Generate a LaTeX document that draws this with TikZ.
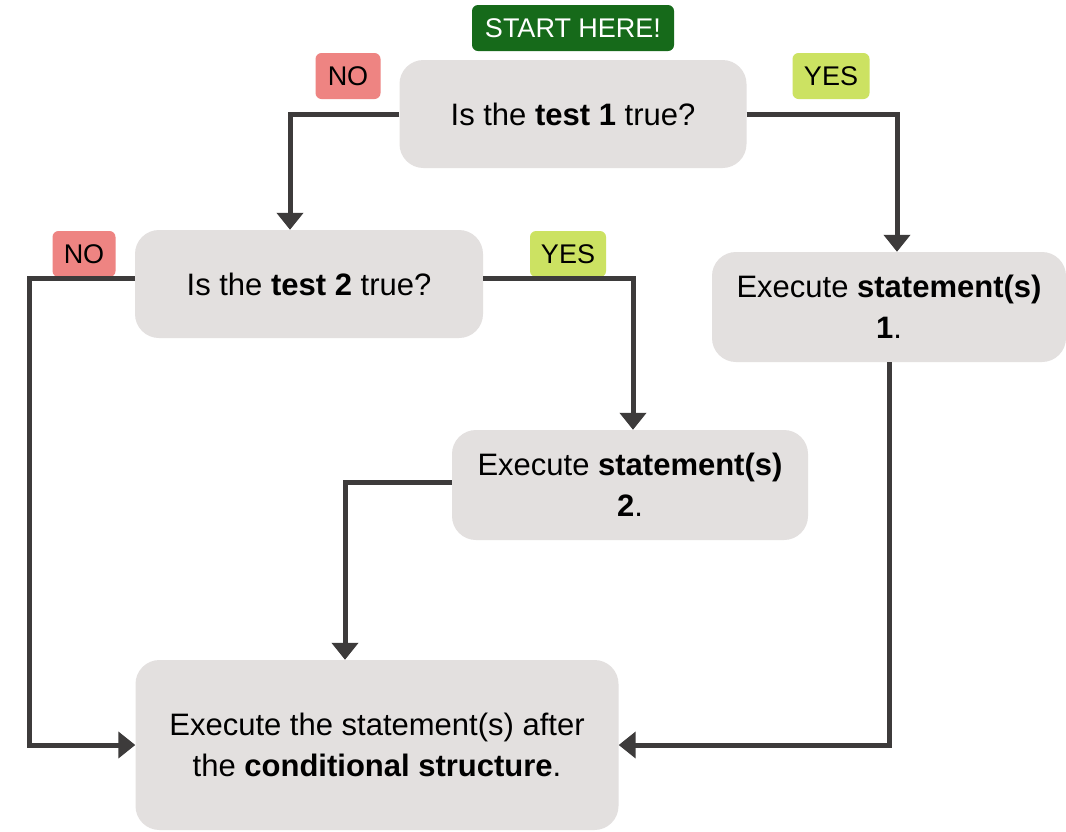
\documentclass[tikz,border=0pt]{standalone}
\usepackage{fontspec}
\setmainfont{Liberation Sans}
\usetikzlibrary{positioning, arrows.meta}
\usepackage{xcolor}
\definecolor{boxgray}{HTML}{E3E0DF}
\definecolor{linegray}{HTML}{3D3B3B}
\definecolor{startgreen}{HTML}{166A1A}
\definecolor{nored}{HTML}{EE8482}
\definecolor{yesgreen}{HTML}{CCE262}
\tikzset{stepbox/.style={rectangle, rounded corners=24pt, fill=boxgray, align=center, font=\fontsize{31}{41}\selectfont, inner sep=0pt},
         tag/.style={rectangle, rounded corners=6pt, font=\fontsize{27}{30}\selectfont, inner sep=0pt, minimum height=46pt},
         arr/.style={-{Triangle[length=17pt, width=26pt]}, line width=5pt, color=linegray}}

\begin{document}
\begin{tikzpicture}[x=1pt, y=-1pt]
        \useasboundingbox[fill=white] (0,0) rectangle (1066,831);
        % Nodes
        \node[tag, fill=startgreen, text=white, minimum width=202pt] (start) at (573,28) {START HERE!};
        \node[stepbox, minimum width=347pt, minimum height=108pt] (test1) at (573,114) {Is the \textbf{test 1} true?};
        \node[tag, fill=nored, minimum width=65pt] (no1) at (348,76) {NO};
        \node[tag, fill=yesgreen, minimum width=77pt] (yes1) at (831,76) {YES};
        \node[stepbox, minimum width=348pt, minimum height=108pt] (test2) at (309,284) {Is the \textbf{test 2} true?};
        \node[tag, fill=nored, minimum width=63pt] (no2) at (84,254) {NO};
        \node[tag, fill=yesgreen, minimum width=76pt] (yes2) at (568,254) {YES};
        \node[stepbox, minimum width=354pt, minimum height=110pt] (stmt1) at (889,307) {Execute \textbf{statement(s)}\\\textbf{1}.};
        \node[stepbox, minimum width=356pt, minimum height=110pt] (stmt2) at (630,485) {Execute \textbf{statement(s)}\\\textbf{2}.};
        \node[stepbox, minimum width=483pt, minimum height=170pt] (final) at (377,745) {Execute the statement(s) after\\the \textbf{conditional structure}.};

        % Edges
        \draw[arr] (test1.west) -| ([xshift=-19pt]test2.north);
        \draw[arr] (test1.east) -| ([xshift=8pt]stmt1.north);
        \draw[arr] ([yshift=6pt]test2.west) -- ++(-105,0) |- (final.west);
        \draw[arr] ([yshift=6pt]test2.east) -| ([xshift=3pt]stmt2.north);
        \draw[arr] ([yshift=3pt]stmt2.west) -| ([xshift=-32pt]final.north);
        \draw[arr] (stmt1.south) |- (final.east);
    \end{tikzpicture}
\end{document}
